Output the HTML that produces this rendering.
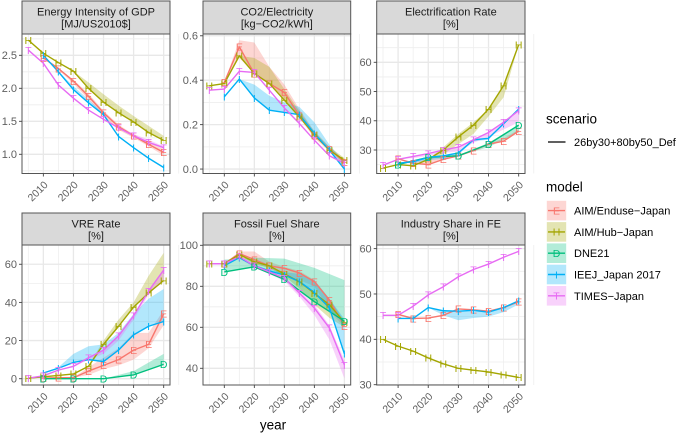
<!DOCTYPE html>
<html lang="en">
<head>
<meta charset="utf-8">
<title>Japan scenario indicators by model</title>
<style>
html,body{margin:0;padding:0;background:#fff;}
svg{display:block;font-family:"Liberation Sans",Arial,sans-serif;}
</style>
</head>
<body>
<svg id="chart" xmlns="http://www.w3.org/2000/svg" width="677" height="434" viewBox="0 0 677 434"></svg>
<script>
const n = null;
const years = [2005,2010,2015,2020,2025,2030,2035,2040,2045,2050];
const xTicks = [2010,2020,2030,2040,2050];
const models = ['AIM/Enduse\u2212Japan','AIM/Hub\u2212Japan','DNE21','IEEJ_Japan 2017','TIMES\u2212Japan'];
const modelLetters = ['E','H','D','I','T'];
const modelColors = ['#F8766D','#A3A500','#00BF7D','#00B0F6','#E76BF3'];
const scenarios = ['26by30+80by50_Def'];

const energyTicks = [1.0,1.5,2.0,2.5];
const energyEnduse = [n,2.46,2.30,2.11,1.88,1.63,1.42,1.28,1.15,1.03];
const energyEnduseLow = [n,2.46,2.28,2.07,1.83,1.58,1.37,1.25,1.12,0.98];
const energyEnduseHigh = [n,2.46,2.31,2.13,1.92,1.66,1.45,1.30,1.18,1.08];
const energyHub = [2.73,2.53,2.39,2.26,2.00,1.79,1.63,1.49,1.33,1.21];
const energyHubHigh = [2.73,2.53,2.39,2.26,2.09,1.91,1.74,1.58,1.43,1.28];
const energyIeej = [n,2.50,2.25,1.98,1.78,1.60,1.27,1.10,0.94,0.80];
const energyIeejHigh = [n,2.50,2.26,2.03,1.83,1.62,1.27,1.10,0.94,0.80];
const energyTimes = [2.58,2.38,2.05,1.85,1.67,1.53,1.40,1.28,1.18,1.10];
const energyTimesHigh = [2.58,2.38,2.05,1.85,1.67,1.53,1.42,1.31,1.22,1.12];

const co2Ticks = [0.0,0.2,0.4,0.6];
const co2Enduse = [n,0.39,0.55,0.43,0.385,0.345,0.24,0.15,0.09,0.03];
const co2EnduseLow = [n,0.39,0.50,0.43,0.385,0.31,0.23,0.14,0.08,0.02];
const co2EnduseHigh = [n,0.39,0.58,0.57,0.46,0.38,0.27,0.17,0.10,0.04];
const co2Hub = [0.375,0.385,0.51,0.43,0.385,0.31,0.235,0.155,0.085,0.04];
const co2HubHigh = [0.375,0.385,0.51,0.50,0.46,0.36,0.26,0.17,0.10,0.05];
const co2Ieej = [n,0.325,0.405,0.32,0.265,0.255,0.245,0.16,0.085,0.0];
const co2IeejHigh = [n,0.325,0.405,0.38,0.33,0.30,0.28,0.21,0.11,0.03];
const co2Times = [0.355,0.36,0.44,0.435,0.355,0.275,0.205,0.13,0.06,0.025];

const elecTicks = [30,40,50,60];
const elecEnduse = [n,27,25.5,25,26.8,28,29.8,32,33,36.5];
const elecEnduseHigh = [n,27,25.8,27,27.8,28.5,30,32,34,37];
const elecHub = [23.8,25,24.6,26.8,30,34.5,38.5,44,52,66];
const elecHubLow = [23.8,25,24.6,26.5,28.5,32,35.5,41.5,48,66];
const elecHubHigh = [23.8,25,24.6,26.8,31,35.5,39.5,44,52,66];
const elecDne = [n,25,n,27.5,n,28,n,32,n,38.5];
const elecDneLow = [n,25,n,27,n,28,n,31,n,36];
const elecDneHigh = [n,25,n,27.5,n,28,n,32.5,n,38.5];
const elecIeej = [n,25.5,26,27.5,28,29,33.5,34,39,44];
const elecIeejLow = [n,25.5,25.5,26.5,27,28.5,33,33.5,39,44];
const elecTimes = [24.8,26.8,27.8,28.8,30,31,33.5,36,39.5,43.5];
const elecTimesLow = [24.8,26.8,27.2,28,29,29.5,32.5,34.5,37,39.5];

const vreTicks = [0,20,40,60];
const vreEnduse = [n,0.3,0.5,0.5,4,7,10,15,18,34];
const vreEnduseLow = [n,0.3,0.5,0.5,2,5,7,10,16,28];
const vreEnduseHigh = [n,0.3,0.5,0.5,6,11,16,24,24,36];
const vreHub = [0.3,1,1.7,2.5,6.5,18,27.5,37.5,45,51.5];
const vreHubHigh = [0.3,1,1.7,2.5,7,20,31,40,54,66];
const vreDne = [n,0,n,0,n,0,n,2,n,7.5];
const vreDneHigh = [n,0,n,0,n,0,n,4,n,13];
const vreIeej = [n,3,5.5,8.5,10,9,15,23,27.5,30];
const vreIeejHigh = [n,3,6,13,17,18,24,34,42,47];
const vreTimes = [0.3,1.5,4.5,6.5,11,15,22.5,33,46,57];
const vreTimesLow = [0.3,1.5,4.5,6,10,13,20,31,44,52];

const fossilTicks = [40,60,80,100];
const fossilEnduse = [n,91,96,93,90,88.8,86.5,82.3,73.3,60.6];
const fossilEnduseLow = [n,91,95,91,89,85,83,80,68,60];
const fossilEnduseHigh = [n,91,97,97,92,89.5,87.5,83,74,63];
const fossilHub = [91,91,95.5,92,90,86,82.3,76.6,71,62.5];
const fossilHubLow = [91,91,95,91,89,85,79,71,64.6,60];
const fossilDne = [n,87,n,89.5,n,83.4,n,72.5,n,63];
const fossilDneHigh = [n,93,n,94,n,93.5,n,89,n,83];
const fossilIeej = [n,90,94,90,87.5,85.5,82.3,77,69.5,47];
const fossilIeejHigh = [n,90,94,90.5,88,87,86,83,74,64];
const fossilTimes = [91,91,94.5,90,87,84,76.7,69.4,59.7,41.6];
const fossilTimesLow = [91,91,93.5,89,86,82.5,75,66,54,35];
const fossilTimesHigh = [91,91,95,90.5,87.5,84.5,78,71,61,44];

const industryTicks = [30,40,50,60];
const industryEnduse = [n,45.5,44.6,44.7,45.3,46.7,46.5,46.2,47,48.3];
const industryHub = [40,38.5,37.4,35.9,34.6,33.6,33.2,32.8,32.2,31.6];
const industryIeej = [n,44.6,44.6,47,46.3,46.2,46.4,46,47,48.5];
const industryIeejLow = [n,44.6,44.6,47,45.3,44.2,44.7,45,46,47.7];
const industryTimes = [45.3,45.3,47.3,49.8,51.6,53.8,55.4,56.6,58.1,59.4];

const panels = [
  {id:'energy-intensity',title:['Energy Intensity of GDP','[MJ/US2010$]'],left:22,right:170,row:0,yDomain:[0.709,2.823],ticks:energyTicks,fmt:1,
   series:[{m:0,v:energyEnduse,lo:energyEnduseLow,hi:energyEnduseHigh},{m:1,v:energyHub,lo:energyHub,hi:energyHubHigh},{m:3,v:energyIeej,lo:energyIeej,hi:energyIeejHigh},{m:4,v:energyTimes,lo:energyTimes,hi:energyTimesHigh}]},
  {id:'co2-electricity',title:['CO2/Electricity','[kg\u2212CO2/kWh]'],left:203,right:350.7,row:0,yDomain:[-0.02,0.608],ticks:co2Ticks,fmt:1,
   series:[{m:0,v:co2Enduse,lo:co2EnduseLow,hi:co2EnduseHigh},{m:1,v:co2Hub,lo:co2Hub,hi:co2HubHigh},{m:3,v:co2Ieej,lo:co2Ieej,hi:co2IeejHigh},{m:4,v:co2Times}]},
  {id:'electrification-rate',title:['Electrification Rate','[%]'],left:376.7,right:525,row:0,yDomain:[21.96,69.68],ticks:elecTicks,fmt:0,
   series:[{m:0,v:elecEnduse,lo:elecEnduse,hi:elecEnduseHigh},{m:1,v:elecHub,lo:elecHubLow,hi:elecHubHigh},{m:2,v:elecDne,lo:elecDneLow,hi:elecDneHigh},{m:3,v:elecIeej,lo:elecIeejLow,hi:elecIeej},{m:4,v:elecTimes,lo:elecTimesLow,hi:elecTimes}]},
  {id:'vre-rate',title:['VRE Rate','[%]'],left:22,right:170,row:1,yDomain:[-3.3,70.1],ticks:vreTicks,fmt:0,
   series:[{m:0,v:vreEnduse,lo:vreEnduseLow,hi:vreEnduseHigh},{m:1,v:vreHub,lo:vreHub,hi:vreHubHigh},{m:2,v:vreDne,lo:vreDne,hi:vreDneHigh},{m:3,v:vreIeej,lo:vreIeej,hi:vreIeejHigh},{m:4,v:vreTimes,lo:vreTimesLow,hi:vreTimes}]},
  {id:'fossil-fuel-share',title:['Fossil Fuel Share','[%]'],left:203,right:350.7,row:1,yDomain:[31.85,100.15],ticks:fossilTicks,fmt:0,
   series:[{m:0,v:fossilEnduse,lo:fossilEnduseLow,hi:fossilEnduseHigh},{m:1,v:fossilHub,lo:fossilHubLow,hi:fossilHub},{m:2,v:fossilDne,lo:fossilDne,hi:fossilDneHigh},{m:3,v:fossilIeej,lo:fossilIeej,hi:fossilIeejHigh},{m:4,v:fossilTimes,lo:fossilTimesLow,hi:fossilTimesHigh}]},
  {id:'industry-share',title:['Industry Share in FE','[%]'],left:376.7,right:525,row:1,yDomain:[29.93,60.8],ticks:industryTicks,fmt:0,
   series:[{m:0,v:industryEnduse},{m:1,v:industryHub},{m:3,v:industryIeej,lo:industryIeejLow,hi:industryIeej},{m:4,v:industryTimes}]}
];

const rows = [{stripTop:1,top:34,bottom:173.5},{stripTop:213,top:245,bottom:385}];
const xDomain = [2002.9,2052.1];
const NS = 'http://www.w3.org/2000/svg';
const svg = document.getElementById('chart');

function add(parent, tag, attrs, text) {
  const el = document.createElementNS(NS, tag);
  for (const k in attrs) el.setAttribute(k, attrs[k]);
  if (text !== undefined) el.textContent = text;
  parent.appendChild(el);
  return el;
}
function group(parent, name) {
  const g = document.createElementNS(NS, 'g');
  
  
  parent.appendChild(g);
  return g;
}

panels.forEach(function (p, pi) {
  const r = rows[p.row];
  const xs = function (yr) { return p.left + (yr - xDomain[0]) / (xDomain[1] - xDomain[0]) * (p.right - p.left); };
  const ys = function (v) { return r.bottom - (v - p.yDomain[0]) / (p.yDomain[1] - p.yDomain[0]) * (r.bottom - r.top); };
  const g = group(svg, p.id + '-panel');

  const strip = add(g, 'rect', {x:p.left, y:r.stripTop, width:p.right-p.left, height:r.top-r.stripTop, fill:'#D9D9D9', stroke:'#555', 'stroke-width':1});
  
  
  p.title.forEach(function (line, i) {
    const t = add(g, 'text', {x:(p.left+p.right)/2, y:r.stripTop+14.6+i*11.7, 'text-anchor':'middle', 'font-size':11, fill:'#1A1A1A'}, line);
    
    
  });

  const clipId = 'clip' + pi;
  const cp = add(g, 'clipPath', {id:clipId});
  add(cp, 'rect', {x:p.left, y:r.top, width:p.right-p.left, height:r.bottom-r.top});

  const grid = group(g, p.id + '-grid');
  for (let i = 0; i < xTicks.length; i++) {
    const mx = xs(xTicks[i]);
    add(grid, 'line', {x1:mx, x2:mx, y1:r.top, y2:r.bottom, stroke:'#E8E8E8', 'stroke-width':1.3});
    const minorYear = xTicks[i] - 5;
    add(grid, 'line', {x1:xs(minorYear), x2:xs(minorYear), y1:r.top, y2:r.bottom, stroke:'#EEEEEE', 'stroke-width':0.8});
  }
  add(grid, 'line', {x1:xs(2055), x2:xs(2055), y1:r.top, y2:r.bottom, stroke:'#EEEEEE', 'stroke-width':0.8});
  const step = p.ticks[1] - p.ticks[0];
  const minorTicks = p.ticks.map(function (t) { return t - step / 2; }).concat([p.ticks[p.ticks.length-1] + step / 2]);
  minorTicks.forEach(function (t) {
    if (t > p.yDomain[0] && t < p.yDomain[1]) add(grid, 'line', {x1:p.left, x2:p.right, y1:ys(t), y2:ys(t), stroke:'#EEEEEE', 'stroke-width':0.8});
  });
  p.ticks.forEach(function (t) {
    add(grid, 'line', {x1:p.left, x2:p.right, y1:ys(t), y2:ys(t), stroke:'#E8E8E8', 'stroke-width':1.3});
  });

  const marks = add(g, 'g', {'clip-path':'url(#' + clipId + ')'});
  
  

  p.series.forEach(function (s) {
    if (!s.lo || !s.hi) return;
    const top = [], bot = [];
    years.forEach(function (yr, i) {
      if (s.lo[i] !== null && s.hi[i] !== null) {
        top.push(xs(yr).toFixed(2) + ',' + ys(s.hi[i]).toFixed(2));
        bot.unshift(xs(yr).toFixed(2) + ',' + ys(s.lo[i]).toFixed(2));
      }
    });
    const rb = add(marks, 'polygon', {points:top.concat(bot).join(' '), fill:modelColors[s.m], 'fill-opacity':0.3, stroke:'none'});
    
    
  });
  p.series.forEach(function (s) {
    const pts = [];
    years.forEach(function (yr, i) {
      if (s.v[i] !== null) pts.push(xs(yr).toFixed(2) + ',' + ys(s.v[i]).toFixed(2));
    });
    const ln = add(marks, 'polyline', {points:pts.join(' '), fill:'none', stroke:modelColors[s.m], 'stroke-width':1.4, 'stroke-linejoin':'round'});
    
    
  });
  p.series.forEach(function (s) {
    years.forEach(function (yr, i) {
      if (s.v[i] === null) return;
      const pt = add(marks, 'text', {x:xs(yr), y:ys(s.v[i]) + 3.8, 'text-anchor':'middle', 'font-size':10.5, fill:modelColors[s.m]}, modelLetters[s.m]);
      
      
    });
  });

  const border = add(g, 'rect', {x:p.left, y:r.top, width:p.right-p.left, height:r.bottom-r.top, fill:'none', stroke:'#555', 'stroke-width':1});
  
  

  const yAxis = group(g, p.id + '-y-axis');
  p.ticks.forEach(function (t) {
    add(yAxis, 'line', {x1:p.left-3, x2:p.left, y1:ys(t), y2:ys(t), stroke:'#444', 'stroke-width':0.9});
    const lb = add(yAxis, 'text', {x:p.left-5, y:ys(t)+3.9, 'text-anchor':'end', 'font-size':11, fill:'#5f5f5f'}, t.toFixed(p.fmt));
    
    
  });
  const xAxis = group(g, p.id + '-x-axis');
  xTicks.forEach(function (t) {
    add(xAxis, 'line', {x1:xs(t), x2:xs(t), y1:r.bottom, y2:r.bottom+3, stroke:'#444', 'stroke-width':0.9});
    const ax = xs(t) + 5.2, ay = r.bottom + 12;
    const lb = add(xAxis, 'text', {x:ax, y:ay, 'text-anchor':'end', 'font-size':10.5, fill:'#5f5f5f', transform:'rotate(-45 ' + ax + ' ' + ay + ')'}, String(t));
    
    
  });
});

const xTitle = add(svg, 'text', {x:273, y:429.5, 'text-anchor':'middle', 'font-size':13.5, fill:'#000'}, 'year');



const scenarioLegend = group(svg, 'scenario-legend');
const scenTitle = add(scenarioLegend, 'text', {x:546, y:123.5, 'font-size':13.5, fill:'#000'}, 'scenario');


scenarios.forEach(function (name) {
  const key = add(scenarioLegend, 'line', {x1:548, x2:565.5, y1:142, y2:142, stroke:'#000', 'stroke-width':1.3});
  
  
  const lb = add(scenarioLegend, 'text', {x:574, y:146, 'font-size':11, fill:'#000'}, name);
  
  
});

const modelLegend = group(svg, 'model-legend');
const modelTitle = add(modelLegend, 'text', {x:546, y:191.5, 'font-size':13.5, fill:'#000'}, 'model');


models.forEach(function (name, i) {
  const cy = 210.6 + i * 21.3;
  const bg = add(modelLegend, 'rect', {x:546.8, y:cy-9.8, width:19.4, height:19.6, fill:modelColors[i], 'fill-opacity':0.3});
  
  
  add(modelLegend, 'line', {x1:548, x2:565, y1:cy, y2:cy, stroke:modelColors[i], 'stroke-width':1.4});
  add(modelLegend, 'text', {x:556.5, y:cy+3.8, 'text-anchor':'middle', 'font-size':10.5, fill:modelColors[i]}, modelLetters[i]);
  const lb = add(modelLegend, 'text', {x:574, y:cy+4, 'font-size':11, fill:'#000'}, name);
  
  
});
</script>
</body>
</html>
